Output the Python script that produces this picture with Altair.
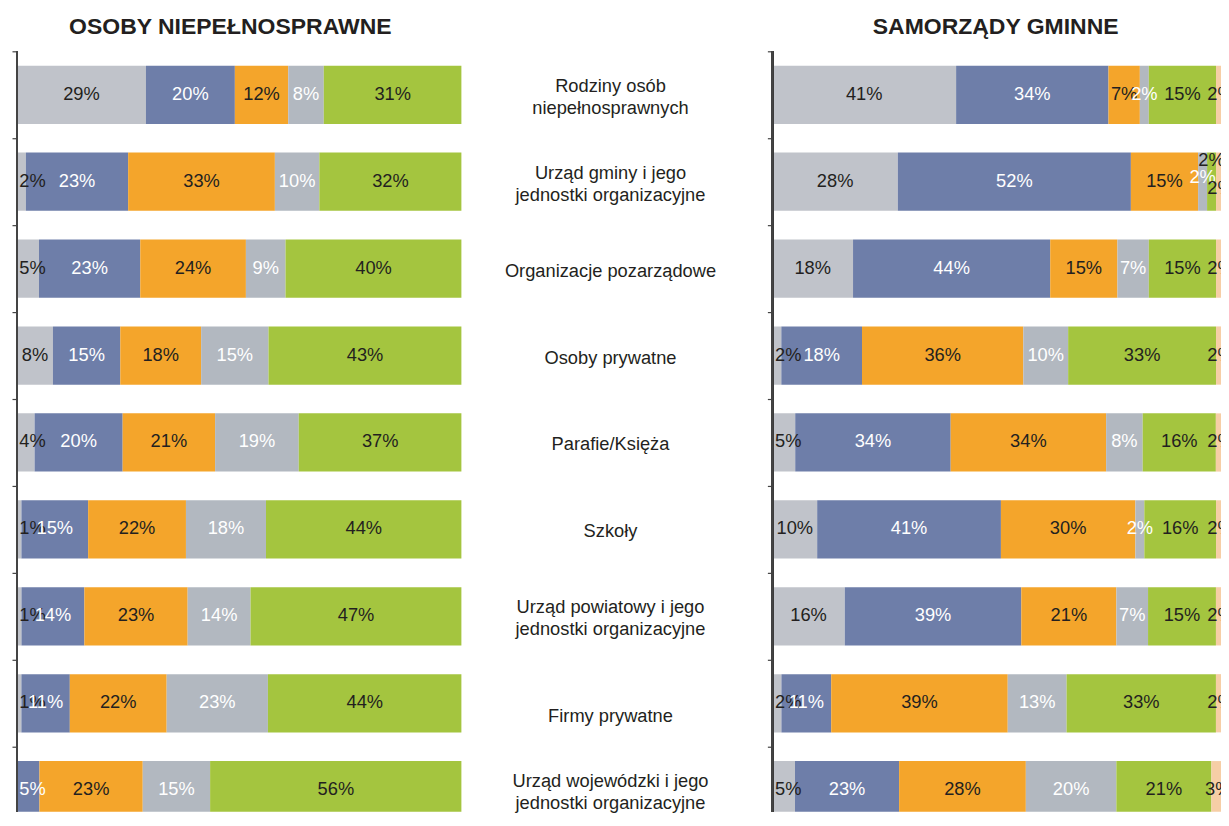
import altair as alt
import pandas as pd

# Categories (rows, top to bottom)
rows = [
    "Rodziny osób niepełnosprawnych",
    "Urząd gminy i jego jednostki organizacyjne",
    "Organizacje pozarządowe",
    "Osoby prywatne",
    "Parafie/Księża",
    "Szkoły",
    "Urząd powiatowy i jego jednostki organizacyjne",
    "Firmy prywatne",
    "Urząd wojewódzki i jego jednostki organizacyjne",
]
row_labels = [
    "Rodziny osób\nniepełnosprawnych",
    "Urząd gminy i jego\njednostki  organizacyjne",
    "Organizacje pozarządowe",
    "Osoby prywatne",
    "Parafie/Księża",
    "Szkoły",
    "Urząd powiatowy i jego\njednostki organizacyjne",
    "Firmy prywatne",
    "Urząd wojewódzki i jego\njednostki organizacyjne",
]

# answer categories (segments, left to right)
series = ["k1", "k2", "k3", "k4", "k5", "k6"]
colors = ["#c0c3ca", "#6e7ea9", "#f4a52b", "#b2b8c0", "#a4c53f", "#f6cea6"]
light_text = ["k2", "k4"]

title_left = "OSOBY NIEPEŁNOSPRAWNE"
title_right = "SAMORZĄDY GMINNE"

# OSOBY NIEPEŁNOSPRAWNE (%)
left_k1 = [29, 2, 5, 8, 4, 1, 1, 1, 0]
left_k2 = [20, 23, 23, 15, 20, 15, 14, 11, 5]
left_k3 = [12, 33, 24, 18, 21, 22, 23, 22, 23]
left_k4 = [8, 10, 9, 15, 19, 18, 14, 23, 15]
left_k5 = [31, 32, 40, 43, 37, 44, 47, 44, 56]
left_k6 = [0, 0, 0, 0, 0, 0, 0, 0, 0]

# SAMORZĄDY GMINNE (%)
right_k1 = [41, 28, 18, 2, 5, 10, 16, 2, 5]
right_k2 = [34, 52, 44, 18, 34, 41, 39, 11, 23]
right_k3 = [7, 15, 15, 36, 34, 30, 21, 39, 28]
right_k4 = [2, 2, 7, 10, 8, 2, 7, 13, 20]
right_k5 = [15, 2, 15, 33, 16, 16, 15, 33, 21]
right_k6 = [2, 2, 2, 2, 2, 2, 2, 2, 3]

FONT = "Liberation Sans"
DARK = "#231f20"
AXIS = "#444444"
STEP = 87
N = len(rows)
FULL_H = STEP * N      # full band range (continues below the visible page)
VIS_H = 761            # visible plot height
PI = 0.33
PO = 0.165
LABEL_FS = 18.3
RIGHT_FULL = 453       # width of 100% in the right panel
RIGHT_VIS = 449        # visible part of it


def long_df(cols):
    recs = []
    for si, (s, vals) in enumerate(zip(series, cols)):
        for r, v in zip(rows, vals):
            recs.append({"row": r, "series": s, "ord": si + 1, "value": v})
    return pd.DataFrame(recs)


yscale = alt.Scale(paddingInner=PI, paddingOuter=PO, range=[0, FULL_H])


def yenc(axis=True):
    if axis:
        ax = alt.Axis(title=None, labels=False, domain=False, bandPosition=0,
                      tickOffset=-STEP * PI / 2, tickExtra=False, tickSize=5,
                      tickColor=AXIS, tickWidth=1.2, grid=False)
    else:
        ax = None
    return alt.Y("row:N", sort=rows, scale=yscale, axis=ax)


def panel(df, title, title_dx, width, dom_max, specials):
    xs = alt.Scale(domain=[0, dom_max], nice=False, zero=True)
    bars = alt.Chart(df).mark_bar(clip=True).encode(
        x=alt.X("value:Q", stack="normalize", scale=xs, axis=None),
        y=yenc(True),
        color=alt.Color("series:N", scale=alt.Scale(domain=series, range=colors), legend=None),
        order=alt.Order("ord:Q"),
    )
    axis_line = alt.Chart(df).mark_rule(color=AXIS, strokeWidth=1.4).encode(
        x=alt.value(0), y=alt.value(0), y2=alt.value(VIS_H))
    base = (
        alt.Chart(df)
        .transform_joinaggregate(total="sum(value)", groupby=["row"])
        .transform_window(cum="sum(value)", sort=[alt.SortField("ord")],
                          groupby=["row"], frame=[None, 0])
        .transform_calculate(mid0="(datum.cum - datum.value/2)/datum.total")
        .transform_calculate(
            mid="datum.cum - datum.value == 0 ? max(datum.mid0, 0.035) : datum.mid0",
            lab="datum.value + '%'")
        .transform_filter("datum.value > 0")
    )
    enc = dict(
        x=alt.X("mid:Q", scale=xs, axis=None),
        y=yenc(True),
        text="lab:N",
        color=alt.condition(alt.FieldOneOfPredicate(field="series", oneOf=light_text),
                            alt.value("white"), alt.value(DARK)),
    )
    conds = []
    layers = [bars]
    for (r, s), dy in specials.items():
        c = f"(datum.row == '{r}' && datum.series == '{s}')"
        conds.append(c)
        layers.append(base.transform_filter(c).mark_text(
            font=FONT, fontSize=LABEL_FS, baseline="middle", align="center", dy=dy,
            clip=True).encode(**enc))
    main_filter = "!(" + " || ".join(conds) + ")" if conds else "true"
    layers.append(base.transform_filter(main_filter).mark_text(
        font=FONT, fontSize=LABEL_FS, baseline="middle", align="center",
        clip=True).encode(**enc))
    layers.append(axis_line)
    return alt.layer(*layers).properties(
        width=width, height=VIS_H, title=alt.TitleParams(title, dx=title_dx))


left = panel(long_df([left_k1, left_k2, left_k3, left_k4, left_k5, left_k6]),
             title_left, -9, 445, 1.0, {})
right = panel(long_df([right_k1, right_k2, right_k3, right_k4, right_k5, right_k6]),
              title_right, -1, RIGHT_VIS, RIGHT_VIS / RIGHT_FULL,
              {(rows[1], "k4"): -4, (rows[1], "k5"): -21, (rows[1], "k6"): 7})

mid_df = pd.DataFrame({"row": rows, "lab": row_labels})
mid_base = alt.Chart(mid_df)
two_line = "indexof(datum.lab, '\\n') >= 0"


def mid_layer(flt, dy):
    return mid_base.transform_filter(flt).mark_text(
        font=FONT, fontSize=LABEL_FS, lineHeight=22, color=DARK, dy=dy, lineBreak="\n",
        baseline="middle", align="center").encode(
        x=alt.value(149), y=yenc(False), text="lab:N")


middle = alt.layer(
    mid_layer(two_line, -8),
    mid_layer(f"!({two_line}) && datum.row != '{rows[7]}'", 3),
    mid_layer(f"datum.row == '{rows[7]}'", 14),
).properties(width=311, height=VIS_H)

chart = (
    alt.hconcat(left, middle, right, spacing=0, bounds="flush")
    .configure_view(stroke=None)
    .configure_title(font=FONT, fontSize=23, fontWeight="bold", color=DARK,
                     anchor="middle", offset=11.2)
    .properties(padding={"left": 3, "top": 8, "right": 0, "bottom": -10})
)

chart.save("out.html", embed_options={"renderer": "svg", "actions": False})
